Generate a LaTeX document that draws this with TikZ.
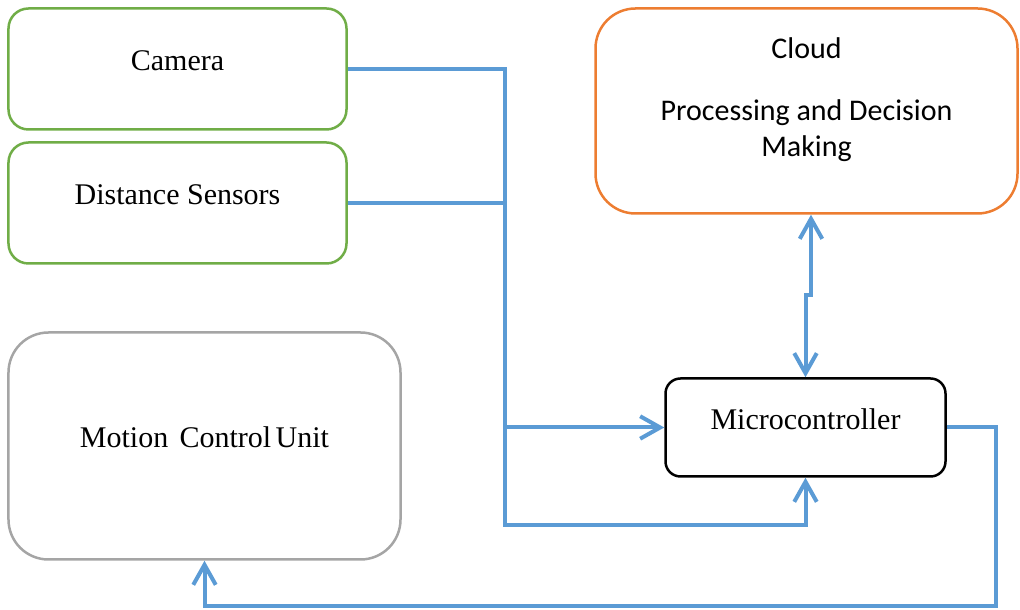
\documentclass[tikz,border=0pt]{standalone}
\usepackage{fontspec}
\setmainfont{Liberation Serif}
\newfontfamily\cloudfont{Carlito}
\usetikzlibrary{arrows.meta,calc}
\definecolor{wireblue}{HTML}{5B9BD5}
\definecolor{sensgreen}{HTML}{70AD47}
\definecolor{cloudorange}{HTML}{ED7D31}
\definecolor{unitgray}{HTML}{A5A5A5}

\begin{document}
\begin{tikzpicture}[x=0.4pt, y=-0.4pt,
		unit/.style={rectangle, draw, line width=1pt, inner sep=0pt, align=center,
			font=\fontsize{12}{14.4}\selectfont},
		lifted/.style={unit, text height=8.4pt, text depth=7pt},
		sensor/.style={lifted, sensgreen, text=black, rounded corners=8pt,
			minimum width=135.2pt, minimum height=48.4pt},
		wire/.style={wireblue, line width=1.6pt,
			arrows={-Straight Barb[length=8pt, width=9pt, line width=1.6pt]}},
		plain/.style={wireblue, line width=1.6pt}]
		\useasboundingbox (0,0) rectangle (1020,610);

		\path (177.5, 69) node[sensor] (cam) {Camera}
  		(177.5, 203) node[sensor] (dist) {Distance Sensors}
  		(204.5, 446) node[lifted, unitgray, text=black, rounded corners=16pt,
  			minimum width=156.8pt, minimum height=90.8pt] (motion) {Motion\hspace{4.5pt}Control\hspace{1.8pt}Unit}
  		(806.5, 111) node[unit, cloudorange, text=black, rounded corners=16pt,
  			minimum width=168.8pt, minimum height=82pt, font=\cloudfont\fontsize{12}{14.4}\selectfont,
  			text depth=10.9pt] (cloud) {Cloud\\[10.4pt]Processing and Decision\\Making}
  		(805.5, 427.5) node[lifted, black, rounded corners=6pt,
  			minimum width=112pt, minimum height=39.2pt] (mcu) {Microcontroller};

		\coordinate (bus) at (505, 525);
		\coordinate (ret) at (996, 606);
		\coordinate (jog) at (811, 295);

		\draw[wire] (cam.east) -| (bus) -| (mcu.south);
		\draw[plain] (dist.east) -- (dist.east -| bus);
		\draw[wire] (mcu.west -| bus) -- (mcu.west);
		\draw[wire] (mcu.east) -| (ret) -| (motion.south);
		\draw[wire, arrows={Straight Barb[length=8pt, width=9pt, line width=1.6pt]-Straight Barb[length=8pt, width=9pt, line width=1.6pt]}]
			(cloud.south -| jog) -- (jog) -| (mcu.north);
	\end{tikzpicture}
\end{document}
